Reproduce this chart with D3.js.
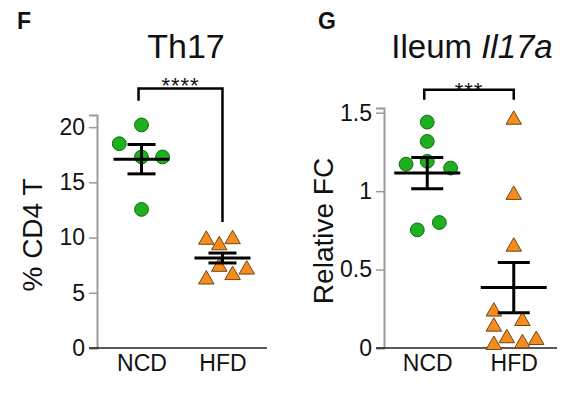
<!DOCTYPE html>
<html>
<head>
<meta charset="utf-8">
<script src="https://d3js.org/d3.v7.min.js"></script>
<style>
body { margin: 0; background: white; }
text { font-family: "Liberation Sans", Arial, Helvetica, sans-serif; fill: #111; }
</style>
</head>
<body>
<div id="chart"></div>
<script>
// groups on the x axis
var groups = ["NCD", "HFD"];

// panel F: Th17 (% CD4 T)
var th17NCD = [20.2, 18.5, 17.3, 17.3, 12.55];
var th17NCDjit = [0, -0.275, 0, 0.26, 0];
var th17HFD = [9.8, 9.3, 9.85, 7.35, 7.1, 6.2, 6.6];
var th17HFDjit = [-0.2, -0.04, 0.125, -0.04, 0.3, -0.2, 0.125];
var th17Mean = [17.1, 8.15];
var th17Sem = [1.33, 0.45];
var th17Ticks = [0, 5, 10, 15, 20];
var th17Sig = [23.5, 22.4, 11.4]; // bracket top, left end, right end

// panel G: Ileum Il17a (relative FC)
var il17NCD = [1.44, 1.317, 1.172, 1.19, 1.147, 0.753, 0.80];
var il17NCDjit = [0, 0, -0.245, 0, 0.27, -0.115, 0.14];
var il17HFD = [1.455, 0.976, 0.646, 0.232, 0.136, 0.172, 0.019, 0.062, 0.03, 0.051];
var il17HFDjit = [0, 0, 0, -0.23, -0.23, 0.1, -0.23, -0.08, 0.1, 0.26];
var il17Mean = [1.115, 0.385];
var il17Sem = [0.099, 0.16];
var il17Ticks = [0, 0.5, 1, 1.5];
var il17Sig = [1.646, 1.583, 1.583];

var svg = d3.select("#chart").append("svg")
  .attr("width", 570)
  .attr("height", 393);

function panel(o) {
  var g = svg.append("g");

  var y = d3.scaleLinear().domain([0, o.yMax]).range([348, o.yTop]);
  var x = d3.scalePoint().domain(groups).range([o.x0, o.x1]).padding(o.pad);
  var step = x.step();

  // panel letter
  g.append("text")
    .attr("x", o.letterX).attr("y", 29)
    .style("font-size", "23px").style("font-weight", "bold")
    .text(o.letter);

  // title
  var t = g.append("text")
    .attr("x", o.titleX).attr("y", 58)
    .attr("text-anchor", "middle")
    .style("font-size", o.titleSize + "px");
  t.append("tspan").text(o.title[0]);
  if (o.title[1]) t.append("tspan").style("font-style", "italic").text(o.title[1]);

  // y axis
  var ya = g.append("g")
    .attr("transform", "translate(" + o.x0 + ",0)")
    .call(d3.axisLeft(y).tickValues(o.ticks).tickSizeOuter(0).tickSize(8).tickPadding(4)
      .tickFormat(d3.format("~g")));
  ya.select(".domain").attr("stroke", "#9a9a9a").attr("stroke-width", 2);
  ya.selectAll(".tick line").attr("stroke", "#9a9a9a").attr("stroke-width", 1.5);
  ya.selectAll(".tick text").style("font-size", "23px").attr("fill", "#111")
    .style("font-family", "Liberation Sans, Arial, sans-serif");

  // y label
  g.append("text")
    .attr("transform", "translate(" + o.ylabX + "," + o.ylabY + ") rotate(-90)")
    .attr("text-anchor", "middle")
    .style("font-size", "28px")
    .text(o.ylabel);

  // x axis
  g.append("line")
    .attr("x1", o.x0 - 8).attr("x2", o.x1)
    .attr("y1", 348).attr("y2", 348)
    .attr("stroke", "#222").attr("stroke-width", 1.5);
  var xa = g.append("g")
    .attr("transform", "translate(0,348)")
    .call(d3.axisBottom(x).tickSize(0).tickPadding(7));
  xa.select(".domain").remove();
  xa.selectAll(".tick text").style("font-size", "23px").attr("fill", "#111")
    .style("font-family", "Liberation Sans, Arial, sans-serif");

  // circles (NCD)
  g.selectAll("circle.pt").data(o.ncd).enter()
    .append("circle")
    .attr("class", "pt")
    .attr("cx", function(d, i) { return x("NCD") + o.ncdJit[i] * step; })
    .attr("cy", function(d) { return y(d); })
    .attr("r", 6.9)
    .attr("fill", "#1fb01f")
    .attr("stroke", "#0d6a0d")
    .attr("stroke-width", 1);

  // triangles (HFD)
  g.selectAll("path.tri").data(o.hfd).enter()
    .append("path")
    .attr("class", "tri")
    .attr("d", d3.symbol().type(d3.symbolTriangle).size(104))
    .attr("transform", function(d, i) {
      return "translate(" + (x("HFD") + o.hfdJit[i] * step) + "," + y(d) + ")";
    })
    .attr("fill", "#f68c1e")
    .attr("stroke", "#6e4716")
    .attr("stroke-width", 1);

  // mean +/- SEM
  groups.forEach(function(k, i) {
    var cx = x(k), m = o.mean[i], s = o.sem[i];
    var eb = g.append("g").attr("stroke", "#000").attr("stroke-width", 3);
    eb.append("line").attr("x1", cx - o.meanHalf).attr("x2", cx + o.meanHalf)
      .attr("y1", y(m)).attr("y2", y(m));
    eb.append("line").attr("x1", cx).attr("x2", cx)
      .attr("y1", y(m + s)).attr("y2", y(m - s));
    eb.append("line").attr("x1", cx - o.capHalf).attr("x2", cx + o.capHalf)
      .attr("y1", y(m + s)).attr("y2", y(m + s));
    eb.append("line").attr("x1", cx - o.capHalf).attr("x2", cx + o.capHalf)
      .attr("y1", y(m - s)).attr("y2", y(m - s));
  });

  // significance bracket
  var xl = x("NCD") - 3, xr = x("HFD");
  g.append("path")
    .attr("d", "M" + xl + "," + y(o.sig[1]) + "V" + y(o.sig[0]) + "H" + xr + "V" + y(o.sig[2]))
    .attr("fill", "none").attr("stroke", "#000").attr("stroke-width", 2.5);
  g.append("text")
    .attr("x", (xl + xr) / 2).attr("y", y(o.sig[0]) + o.starDy)
    .attr("text-anchor", "middle")
    .style("font-size", "22px").style("letter-spacing", "1px")
    .text(o.stars);
}

panel({
  letter: "F", letterX: 17,
  title: ["Th17"], titleX: 186, titleSize: 34,
  ylabel: "% CD4 T", ylabX: 42, ylabY: 235,
  x0: 97, x1: 267, pad: 0.55,
  yMax: 21.1, yTop: 115, ticks: th17Ticks,
  ncd: th17NCD, ncdJit: th17NCDjit, hfd: th17HFD, hfdJit: th17HFDjit,
  mean: th17Mean, sem: th17Sem, meanHalf: 28, capHalf: 14,
  sig: th17Sig, stars: "****", starDy: 5
});

panel({
  letter: "G", letterX: 318,
  title: ["Ileum ", "Il17a"], titleX: 472, titleSize: 33,
  ylabel: "Relative FC", ylabX: 333, ylabY: 231,
  x0: 384, x1: 557, pad: 0.5,
  yMax: 1.53, yTop: 108, ticks: il17Ticks,
  ncd: il17NCD, ncdJit: il17NCDjit, hfd: il17HFD, hfdJit: il17HFDjit,
  mean: il17Mean, sem: il17Sem, meanHalf: 33, capHalf: 16,
  sig: il17Sig, stars: "***", starDy: 8
});
</script>
</body>
</html>
